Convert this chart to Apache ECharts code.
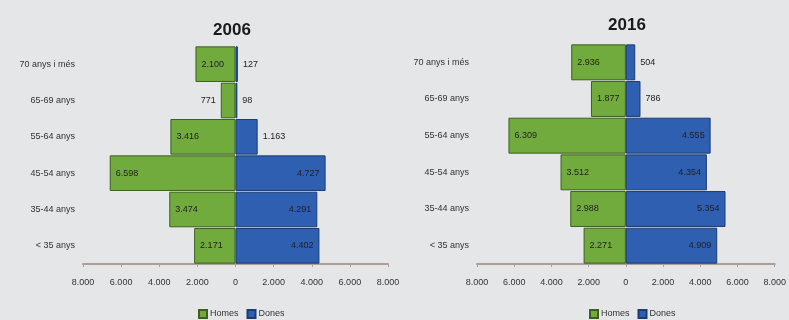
<!DOCTYPE html>
<html><head><meta charset="utf-8">
<script src="https://cdn.jsdelivr.net/npm/echarts@6/dist/echarts.min.js"></script>
<style>html,body{margin:0;padding:0;background:#e5e6e8;}#c{width:789px;height:320px;}</style>
</head><body><div id="c"></div>
<script>
var categories = ['< 35 anys', '35-44 anys', '45-54 anys', '55-64 anys', '65-69 anys', '70 anys i més'];
var titles = ['2006', '2016'];
var homes2006 = [2171, 3474, 6598, 3416, 771, 2100];
var dones2006 = [4402, 4291, 4727, 1163, 98, 127];
var homes2016 = [2271, 2988, 3512, 6309, 1877, 2936];
var dones2016 = [4909, 5354, 4354, 4555, 786, 504];
var tickValues = [-8000, -6000, -4000, -2000, 0, 2000, 4000, 6000, 8000];

function fmt(v) { return String(Math.abs(v)).replace(/\B(?=(\d{3})+(?!\d))/g, '.'); }

var green = '#71ab3d', blue = '#2e5fb0';
var font = 'Liberation Sans';

function mk(vals, neg) {
  return vals.map(function (v) {
    var big = v >= 1500;
    return {
      value: neg ? -v : v,
      label: {
        position: neg ? (big ? 'insideLeft' : 'left') : (big ? 'insideRight' : 'right'),
        distance: big ? 6 : 5
      }
    };
  });
}

var grids = [
  { left: 83, width: 305, top: 46, bottom: 56 },
  { left: 477, width: 305, top: 44, bottom: 56 }
];

function xAx(i) {
  return {
    type: 'value', gridIndex: i, min: -8000, max: 8000, interval: 2000,
    axisLine: { show: true, lineStyle: { color: '#ad9f98', width: 2 } },
    axisTick: { show: true, length: 3, lineStyle: { color: '#ad9f98' } },
    splitLine: { show: false },
    axisLabel: { formatter: function (v) { return fmt(v); }, color: '#333', fontSize: 9, fontFamily: font, margin: 14 }
  };
}
function yAx(i) {
  return {
    type: 'category', gridIndex: i, data: categories,
    axisLine: { show: false }, axisTick: { show: false },
    axisLabel: { color: '#333', fontSize: 9, fontFamily: font, margin: 8 }
  };
}
function ser(name, vals, neg, i) {
  var c = neg ? green : blue;
  return {
    name: name, type: 'bar', xAxisIndex: i, yAxisIndex: i,
    data: mk(vals, neg), barGap: '-100%', barCategoryGap: '2%',
    itemStyle: { color: c, borderColor: neg ? '#3e5f22' : '#1d3c70', borderWidth: 1 },
    label: { show: true, color: '#222', fontSize: 9, fontFamily: font, formatter: function (p) { return fmt(p.value); } },
    emphasis: { disabled: true }, animation: false
  };
}

var chart = echarts.init(document.getElementById('c'));
chart.setOption({
  backgroundColor: '#e5e6e8',
  animation: false,
  title: [
    { text: titles[0], left: 227, top: 17, textAlign: 'center', textStyle: { fontSize: 17, fontWeight: 'bold', color: '#1a1a1a', fontFamily: font } },
    { text: titles[1], left: 622, top: 12, textAlign: 'center', textStyle: { fontSize: 17, fontWeight: 'bold', color: '#1a1a1a', fontFamily: font } }
  ],
  legend: [
    { data: ['Homes', 'Dones'], left: 193, top: 304, itemWidth: 8, itemHeight: 8, itemGap: 8, icon: 'rect', textStyle: { fontSize: 9, color: '#333', fontFamily: font, padding: [0, 0, 0, -2] } },
    { data: ['Homes', 'Dones'], left: 584, top: 304, itemWidth: 8, itemHeight: 8, itemGap: 8, icon: 'rect', textStyle: { fontSize: 9, color: '#333', fontFamily: font, padding: [0, 0, 0, -2] } }
  ],
  grid: grids,
  xAxis: [xAx(0), xAx(1)],
  yAxis: [yAx(0), yAx(1)],
  series: [
    ser('Homes', homes2006, true, 0),
    ser('Dones', dones2006, false, 0),
    ser('Homes', homes2016, true, 1),
    ser('Dones', dones2016, false, 1)
  ]
});
</script></body></html>
